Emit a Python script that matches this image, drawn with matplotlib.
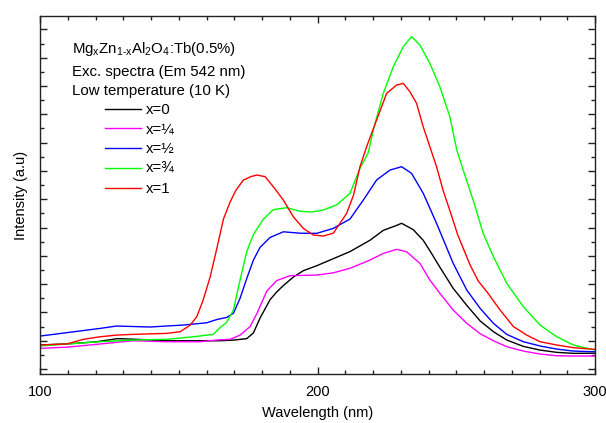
import matplotlib
matplotlib.use("Agg")
import matplotlib.pyplot as plt
from matplotlib.ticker import MultipleLocator, NullFormatter

plt.rcParams['font.family'] = ['Liberation Sans', 'DejaVu Sans']
plt.rcParams['mathtext.fontset'] = 'custom'
plt.rcParams['mathtext.rm'] = 'Liberation Sans'

# spectra: wavelength (nm) and intensity (a.u.)
wl_x0 = [100, 110, 120, 128, 135, 145, 155, 165, 170, 174.5, 176.9, 179.3, 182.9, 185.3, 187.7,
         191.3, 194.9, 199.7, 205.7, 211.7, 218.9, 223.7, 228.5, 230.3, 234.5, 238.1, 241, 244.1,
         248.9, 253.8, 258.6, 263.4, 268.2, 274.2, 280.2, 286.2, 292.2, 300]
int_x0 = [1.70, 1.78, 1.92, 2.15, 2.1, 2.0, 2.0, 2.0, 2.05, 2.15, 2.55, 3.6, 4.9, 5.45, 5.9,
          6.5, 6.95, 7.3, 7.8, 8.3, 9.1, 9.8, 10.15, 10.3, 9.85, 9.1, 8.2, 7.2,
          5.7, 4.5, 3.4, 2.64, 2.05, 1.6, 1.34, 1.18, 1.11, 1.12]

wl_x14 = [100, 110, 121.6, 133.6, 145.6, 157.7, 163.7, 168.5, 172.1, 175.7, 178.1, 181.7, 185.3,
          190.1, 195, 199.7, 205.7, 211.7, 218.9, 223.7, 228.5, 232.1, 236.9, 240.5, 244.1, 248.9,
          253.8, 258.6, 263.4, 268.2, 274.2, 280.2, 286.2, 292.2, 300]
int_x14 = [1.46, 1.55, 1.77, 2.0, 1.93, 1.93, 2.05, 2.1, 2.4, 3.0, 3.9, 5.5, 6.25,
           6.6, 6.62, 6.64, 6.8, 7.12, 7.7, 8.17, 8.46, 8.29, 7.47, 6.29, 5.35, 4.17,
           3.23, 2.5, 2.0, 1.58, 1.27, 1.06, 0.94, 0.92, 0.92]

wl_x12 = [100, 109.6, 121.6, 127.6, 139.6, 151.6, 160.1, 163.7, 167.3, 169.7, 172.1, 174.5, 176.9,
          179.3, 182.9, 187.7, 193.7, 199.7, 205.7, 211.7, 216.5, 221.3, 226.1, 230.3, 233.9,
          238.1, 242.9, 246.5, 248.9, 253.8, 258.6, 263.4, 268.2, 274.2, 280.2, 286.2, 292.2, 300]
int_x12 = [2.33, 2.57, 2.87, 3.04, 2.97, 3.11, 3.27, 3.5, 3.65, 3.94, 5.0, 6.4, 7.7,
           8.6, 9.3, 9.7, 9.6, 9.59, 9.94, 10.6, 11.94, 13.36, 14.06, 14.3, 13.83,
           12.42, 10.3, 8.6, 7.47, 5.58, 4.29, 3.23, 2.45, 1.93, 1.63, 1.41, 1.27, 1.22]

wl_x34 = [100, 109.6, 121.6, 133.6, 145.6, 155.2, 162.4, 165, 167.3, 169.7, 172.1, 174.5, 176.9,
          180.5, 184.1, 188.9, 193.7, 198, 202.1, 206.9, 211.7, 215.3, 218.3, 220.1, 223.7, 227.3,
          230.9, 233.9, 236.9, 240.5, 244.1, 247.7, 250.2, 252.5, 256.1, 259.7, 263.4, 268.2,
          274.2, 280.2, 286.2, 292.2, 300]
int_x34 = [1.63, 1.77, 1.93, 2.05, 2.10, 2.28, 2.45, 2.95, 3.3, 4.17, 6.3, 8.3, 9.5,
           10.6, 11.27, 11.4, 11.15, 11.1, 11.24, 11.6, 12.42, 14.18, 15.3, 16.89, 19.48, 21.36,
           22.78, 23.49, 22.9, 21.6, 19.95, 17.83, 15.48, 14.06, 11.94, 9.59, 7.94, 6.06,
           4.40, 3.11, 2.28, 1.70, 1.34]

wl_x1 = [100, 109.6, 115.6, 121.6, 127.6, 133.6, 145.6, 150.5, 154.1, 156.5, 158.8, 161.3, 163.7,
         166.1, 168.5, 170.5, 173.3, 176, 178.1, 181.1, 184.1, 187.7, 191.3, 194.9, 198.5, 202.1,
         205.7, 208.1, 210.5, 213, 215.3, 217.7, 221.3, 224.9, 228.5, 230.9, 233.3, 235.7, 238.1,
         240.5, 242.9, 245.3, 247.7, 250.5, 255, 258, 260.9, 265.8, 270.6, 275.4, 280.2, 286.2,
         292.2, 300]
int_x1 = [1.70, 1.77, 2.10, 2.28, 2.40, 2.45, 2.52, 2.64, 3.1, 3.7, 4.88, 6.5, 8.5,
          10.6, 11.8, 12.6, 13.36, 13.6, 13.71, 13.6, 12.88, 11.94, 10.76, 9.94, 9.47, 9.40,
          9.6, 10.3, 11.0, 12.3, 14.3, 15.71, 17.6, 19.48, 20.07, 20.19, 19.6, 18.78, 17.12,
          15.71, 14.3, 12.6, 11.2, 9.5, 7.35, 6.2, 5.5, 4.17, 3.0, 2.4, 1.93, 1.70,
          1.51, 1.39]

series = [
    (wl_x0, int_x0, 'black', 'x=0'),
    (wl_x14, int_x14, '#ff00ff', 'x=\u00bc'),
    (wl_x12, int_x12, '#0000ff', 'x=\u00bd'),
    (wl_x34, int_x34, '#00ff00', 'x=\u00be'),
    (wl_x1, int_x1, '#ff0000', 'x=1'),
]

W, H = 606, 423
fig = plt.figure(figsize=(W / 100, H / 100), dpi=100)
ax = fig.add_axes([40 / W, 1 - 374 / H, 555 / W, 358 / H])

for wl, inten, color, label in series:
    ax.plot(wl, inten, color=color, lw=1.0, label=label)

ax.set_xlim(100, 300)
ax.set_ylim(-0.35, 24.95)
ax.xaxis.set_major_locator(MultipleLocator(100))
ax.xaxis.set_minor_locator(MultipleLocator(10))
ax.yaxis.set_major_locator(MultipleLocator(2))
ax.yaxis.set_minor_locator(MultipleLocator(1))
ax.yaxis.set_major_formatter(NullFormatter())
ax.tick_params(which='both', direction='in', top=True, right=True, color='#222222')
ax.tick_params(which='major', length=5, width=1)
ax.tick_params(which='minor', length=3, width=1)
ax.tick_params(axis='x', labelsize=10.5, pad=8)
for sp in ax.spines.values():
    sp.set_linewidth(1.0)
    sp.set_color('#222222')

ax.set_xlabel('Wavelength (nm)', fontsize=10.5, labelpad=5)
ax.set_ylabel('Intensity (a.u)', fontsize=10.5, labelpad=5)

fig.text(72 / W, 1 - 53 / H, r'$\mathregular{Mg_xZn_{1\text{-}x}Al_2O_4}$:Tb(0.5%)', fontsize=10.8,
         va='baseline')
fig.text(72 / W, 1 - 76 / H, 'Exc. spectra (Em 542 nm)', fontsize=10.8, va='baseline')
fig.text(72 / W, 1 - 95 / H, 'Low temperature (10 K)', fontsize=10.8, va='baseline')

ax.legend(loc='upper left', bbox_to_anchor=(105 / W, 1 - 103 / H), bbox_transform=fig.transFigure,
          frameon=False, fontsize=10.8, handlelength=2.4, handletextpad=0.3, labelspacing=0.38,
          borderpad=0, borderaxespad=0)

fig.savefig('out.png', dpi=100)
